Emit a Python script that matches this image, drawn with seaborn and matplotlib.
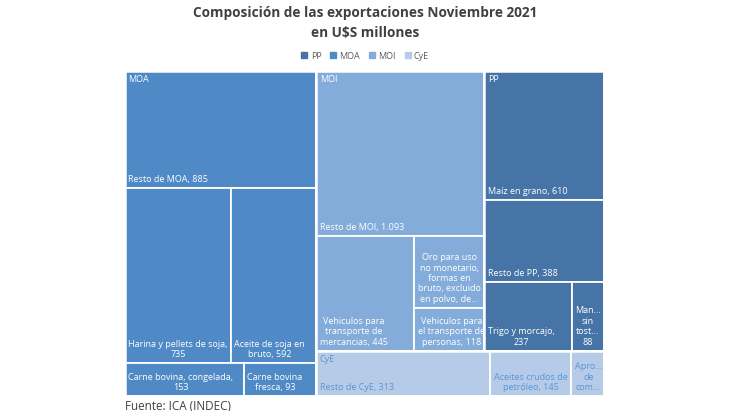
import matplotlib
matplotlib.use("Agg")
import matplotlib.pyplot as plt
from matplotlib.patches import Rectangle
from matplotlib.lines import Line2D
import seaborn as sns

# ---------------- data ----------------
groups = ["MOA", "MOI", "PP", "CyE"]
legend_order = ["PP", "MOA", "MOI", "CyE"]
group_colors = {"PP": "#4674a6", "MOA": "#4f8ac6", "MOI": "#83acdb", "CyE": "#b5cbe8"}
text_colors = {"PP": "white", "MOA": "white", "MOI": "white", "CyE": "#5b95d3"}

moa_labels = ["Resto de MOA, 885", "Harina y pellets de soja,\n735", "Aceite de soja en\nbruto, 592",
              "Carne bovina, congelada,\n153", "Carne bovina\nfresca, 93"]
moa_values = [885, 735, 592, 153, 93]

moi_labels = ["Resto de MOI, 1.093", "Vehiculos para\ntransporte de\nmercancias, 445",
              "Oro para uso\nno monetario,\nformas en\nbruto, excluido\nen polvo, de...",
              "Vehiculos para\nel transporte de\npersonas, 118"]
moi_values = [1093, 445, 200, 118]

pp_labels = ["Maíz en grano, 610", "Resto de PP, 388", "Trigo y morcajo,\n237", "Man...\nsin\ntost...\n88"]
pp_values = [610, 388, 237, 88]

cye_labels = ["Resto de CyE, 313", "Aceites crudos de\npetróleo, 145", "Apro...\nde\ncom..."]
cye_values = [313, 145, 59]

leaf_labels = {"MOA": moa_labels, "MOI": moi_labels, "PP": pp_labels, "CyE": cye_labels}
leaf_values = {"MOA": moa_values, "MOI": moi_values, "PP": pp_values, "CyE": cye_values}

title = "Composición de las exportaciones Noviembre 2021\nen U$S millones"
source = "Fuente: ICA (INDEC)"


# ---------------- squarified layout (with a small tolerance, as in Excel) ----------------
TOL = 1.36


def worst(row, side):
    s = sum(row)
    return max(max(side * side * r / (s * s), (s * s) / (side * side * r)) for r in row)


def squarify(values, x, y, dx, dy):
    total = sum(values)
    areas = [v * dx * dy / total for v in values]
    rects = []
    i = 0
    while i < len(areas):
        side = min(dx, dy)
        row = [areas[i]]
        j = i + 1
        while j < len(areas) and worst(row + [areas[j]], side) <= TOL * worst(row, side):
            row.append(areas[j])
            j += 1
        s = sum(row)
        if dx >= dy:  # column on the left
            w = s / dy
            yy = y
            for a in row:
                h = a / w
                rects.append((x, yy, w, h))
                yy += h
            x += w
            dx -= w
        else:  # row on top
            h = s / dx
            xx = x
            for a in row:
                w = a / h
                rects.append((xx, y, w, h))
                xx += w
            y += h
            dy -= h
        i = j
    return rects


W, H = 479.0, 325.0

sns.set_theme(style="white")
plt.rcParams["font.family"] = ["Open Sans", "DejaVu Sans"]

fig = plt.figure(figsize=(7.30, 4.11), dpi=100)
ax = fig.add_axes([125 / 730, 1 - 396 / 411, 479 / 730, 325 / 411])
ax.set_xlim(0, W)
ax.set_ylim(H, 0)
ax.axis("off")

totals = [sum(leaf_values[g]) for g in groups]
group_rects = squarify(totals, 0, 0, W, H)

for g, (gx, gy, gw, gh) in zip(groups, group_rects):
    leaves = squarify(leaf_values[g], gx, gy, gw, gh)
    for lab, (lx, ly, lw, lh) in zip(leaf_labels[g], leaves):
        ax.add_patch(Rectangle((lx, ly), lw, lh, facecolor=group_colors[g],
                               edgecolor="white", linewidth=1.3))
        ax.text(lx + 3.5, ly + lh - 4, lab, ha="left", va="bottom",
                multialignment="center", fontsize=6.5, color=text_colors[g],
                linespacing=1.2)
    ax.add_patch(Rectangle((gx, gy), gw, gh, facecolor="none",
                           edgecolor="white", linewidth=1.8))
    ax.text(gx + 3.5, gy + 4.5, g, ha="left", va="top",
            fontsize=6.5, color=text_colors[g])

fig.text(0.5, 1 - 6 / 411, title, ha="center", va="top", fontsize=9.8,
         fontweight="bold", color="#404040", linespacing=1.55)

handles = [Line2D([0], [0], marker="s", linestyle="", markersize=4.5,
                  markerfacecolor=group_colors[g], markeredgecolor=group_colors[g])
           for g in legend_order]
fig.legend(handles, legend_order, loc="center", bbox_to_anchor=(0.5, 1 - 56 / 411),
           ncol=4, frameon=False, fontsize=6.5, handletextpad=0.3, columnspacing=0.9,
           handlelength=0.8, labelcolor="#595959")

fig.text(125 / 730, 1 - 406 / 411, source, ha="left", va="center", fontsize=8.4,
         color="#404040")

fig.savefig("out.png", dpi=100)
